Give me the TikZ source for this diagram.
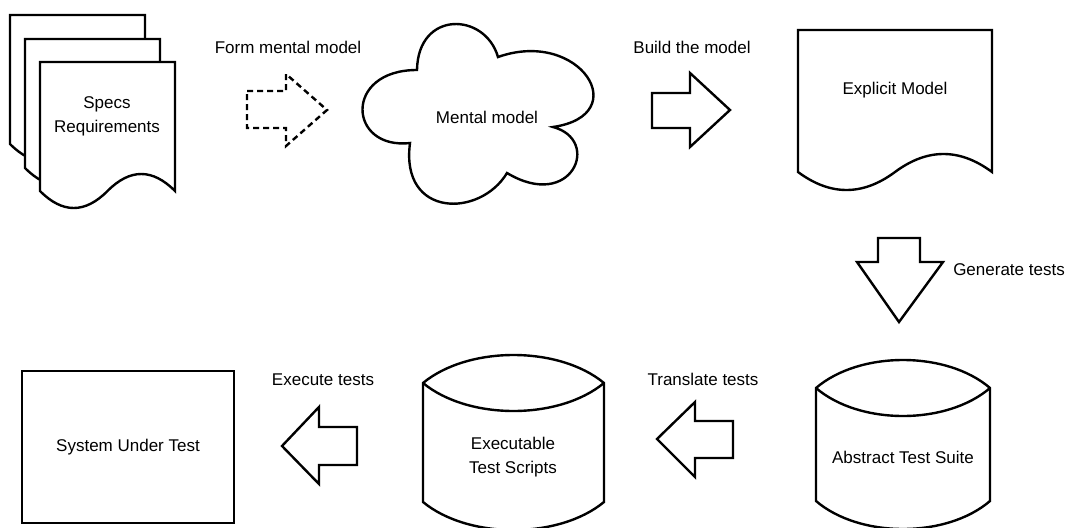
\documentclass[tikz,border=0pt]{standalone}
\usepackage{fontspec}
\setmainfont{Liberation Sans}
\tikzset{
  shp/.style={draw=black, line width=2.4pt, fill=white, line join=miter},
  dashshp/.style={shp, dash pattern=on 6pt off 4pt},
  txt/.style={font=\fontsize{17}{24}\selectfont, align=center, inner sep=0pt},
}
\newcommand\docshape[6][]{%
  \draw[shp,#1] (#2,#3) -- ({#2+#4},#3) -- ({#2+#4},{#3+#5})
    .. controls ({#2+#4-#4/6},{#3+#5-4*#6/3}) and ({#2+#4/2+#4/6},{#3+#5-4*#6/3}) .. ({#2+#4/2},{#3+#5})
    .. controls ({#2+#4/3},{#3+#5+4*#6/3}) and ({#2+#4/6},{#3+#5+4*#6/3}) .. (#2,{#3+#5}) -- cycle;}
\newcommand\cylshape[5]{%
  \draw[shp] (#1,#3) .. controls ({#1+0.25*(#2-#1)},{#3-4*#5/3}) and ({#1+0.75*(#2-#1)},{#3-4*#5/3}) .. (#2,#3)
    -- (#2,#4) .. controls ({#1+0.75*(#2-#1)},{#4+4*#5/3}) and ({#1+0.25*(#2-#1)},{#4+4*#5/3}) .. (#1,#4) -- cycle;
  \draw[shp, fill=none] (#1,#3) .. controls ({#1+0.25*(#2-#1)},{#3+4*#5/3}) and ({#1+0.75*(#2-#1)},{#3+4*#5/3}) .. (#2,#3);}
\begin{document}
\begin{tikzpicture}[x=1pt, y=-1pt]
\useasboundingbox (0,0) rectangle (1067,527);
\clip (0,0) rectangle (1067,527);
\fill[white] (0,0) rectangle (1067,527);

% stacked specs pages
\docshape{10}{15}{135}{129}{17}
\docshape{25}{39}{135}{129}{17}
\docshape{40}{62}{135}{129}{17}
\node[txt] (specs) at (107,116) {Specs\\Requirements};

% dashed arrow
\draw[dashshp] (247,91) -- (286,91) -- (286,74) -- (327,110) -- (286,146) -- (286,128) -- (247,128) -- cycle;
\node[txt] (form) at (288,47) {Form mental model};

% cloud
\coordinate (n1) at (417,70);
\coordinate (n2) at (498,57);
\coordinate (n3) at (553,127);
\coordinate (n4) at (507,173);
\coordinate (n5) at (410,143);
\draw[shp] (n1) .. controls (418,10) and (485,12) .. (n2)
  .. controls (580,28) and (635,115) .. (n3)
  .. controls (602,140) and (572,212) .. (n4)
  .. controls (480,218) and (400,218) .. (n5)
  .. controls (348,150) and (343,70) .. (n1) -- cycle;
\node[txt] (mental) at (487,117) {Mental model};

% build arrow
\draw[shp] (652,93) -- (690,93) -- (690,73) -- (730,110) -- (690,147) -- (690,128) -- (652,128) -- cycle;
\node[txt] (build) at (692,47) {Build the model};

% explicit model
\docshape{798}{30}{194}{142}{18}
\node[txt] (explicit) at (895,90) {Explicit Model};

% generate arrow
\draw[shp] (878,238) -- (920,238) -- (920,262) -- (943,262) -- (899,322) -- (857,262) -- (878,262) -- cycle;
\node[txt] (generate) at (1009,270) {Generate tests};

% abstract test suite
\cylshape{816}{990}{388}{501}{28}
\node[txt] (abstract) at (903,457) {Abstract Test Suite};

% translate arrow
\draw[shp] (733,421) -- (695,421) -- (695,402) -- (657,439) -- (695,477) -- (695,458) -- (733,458) -- cycle;
\node[txt] (translate) at (703,379) {Translate tests};

% executable scripts
\cylshape{423}{604}{383}{502}{28}
\node[txt] (exec) at (513,457) {Executable\\Test Scripts};

% execute arrow
\draw[shp] (357,427) -- (319,427) -- (319,407) -- (282,446) -- (319,484) -- (319,465) -- (357,465) -- cycle;
\node[txt] (execute) at (323,380) {Execute tests};

% system under test
\draw[shp] (22,371) rectangle (234,523);
\node[txt] (sut) at (128,447) {System Under Test};
\end{tikzpicture}
\end{document}
